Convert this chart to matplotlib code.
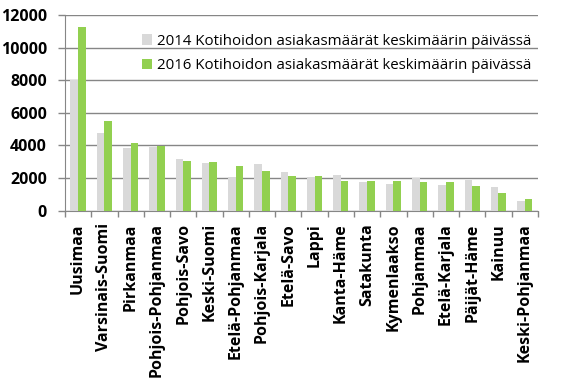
import matplotlib
matplotlib.use("Agg")
import matplotlib.pyplot as plt
import numpy as np

categories = ["Uusimaa", "Varsinais-Suomi", "Pirkanmaa", "Pohjois-Pohjanmaa",
              "Pohjois-Savo", "Keski-Suomi", "Etelä-Pohjanmaa", "Pohjois-Karjala",
              "Etelä-Savo", "Lappi", "Kanta-Häme", "Satakunta", "Kymenlaakso",
              "Pohjanmaa", "Etelä-Karjala", "Päijät-Häme", "Kainuu", "Keski-Pohjanmaa"]
values_2014 = [8020, 4740, 3850, 3880, 3170, 2920, 2080, 2860, 2390,
               2050, 2170, 1740, 1660, 2030, 1580, 1880, 1450, 600]
values_2016 = [11250, 5520, 4130, 3990, 3030, 2960, 2740, 2450, 2150,
               2130, 1840, 1820, 1800, 1760, 1740, 1510, 1100, 740]
series_labels = ["2014 Kotihoidon asiakasmäärät keskimäärin päivässä",
                 "2016 Kotihoidon asiakasmäärät keskimäärin päivässä"]
yticks = [0, 2000, 4000, 6000, 8000, 10000, 12000]

plt.rcParams['font.family'] = ['Open Sans', 'DejaVu Sans']

fig = plt.figure(figsize=(5.76, 3.84), dpi=100)
ax = fig.add_axes([0.1128, 0.4513, 0.821, 0.5096])

x = np.arange(len(categories))
w = 0.29
ax.bar(x - w / 2, values_2014, width=w, color="#d9d9d9", label=series_labels[0], zorder=3)
ax.bar(x + w / 2, values_2016, width=w, color="#92d050", label=series_labels[1], zorder=3)

ax.set_xlim(-0.5, len(categories) - 0.5)
ax.set_ylim(0, 12000)
ax.set_yticks(yticks)
ax.set_yticklabels([str(t) for t in yticks], fontsize=11.5, fontweight="bold")
ax.yaxis.grid(True, color="#868686", linewidth=1.0, zorder=0)
ax.set_axisbelow(True)

ax.set_xticks(np.arange(len(categories) + 1) - 0.5, minor=True)
ax.set_xticks(x)
ax.set_xticklabels(categories, rotation=90, fontsize=11.5, fontweight="bold")
ax.tick_params(axis="x", which="major", length=0, pad=9)
ax.tick_params(axis="x", which="minor", length=4, color="#868686", width=1)
ax.tick_params(axis="y", length=5, color="#868686", width=1, pad=8)

for s in ["top", "right"]:
    ax.spines[s].set_visible(False)
ax.spines["left"].set_color("#868686")
ax.spines["bottom"].set_color("#868686")

ax.legend(loc="upper left", bbox_to_anchor=(0.15, 0.935), frameon=False,
          fontsize=10.8, handlelength=0.7, handleheight=0.7, handletextpad=0.3,
          labelspacing=0.65, borderaxespad=0)

fig.savefig("out.png", dpi=100)
